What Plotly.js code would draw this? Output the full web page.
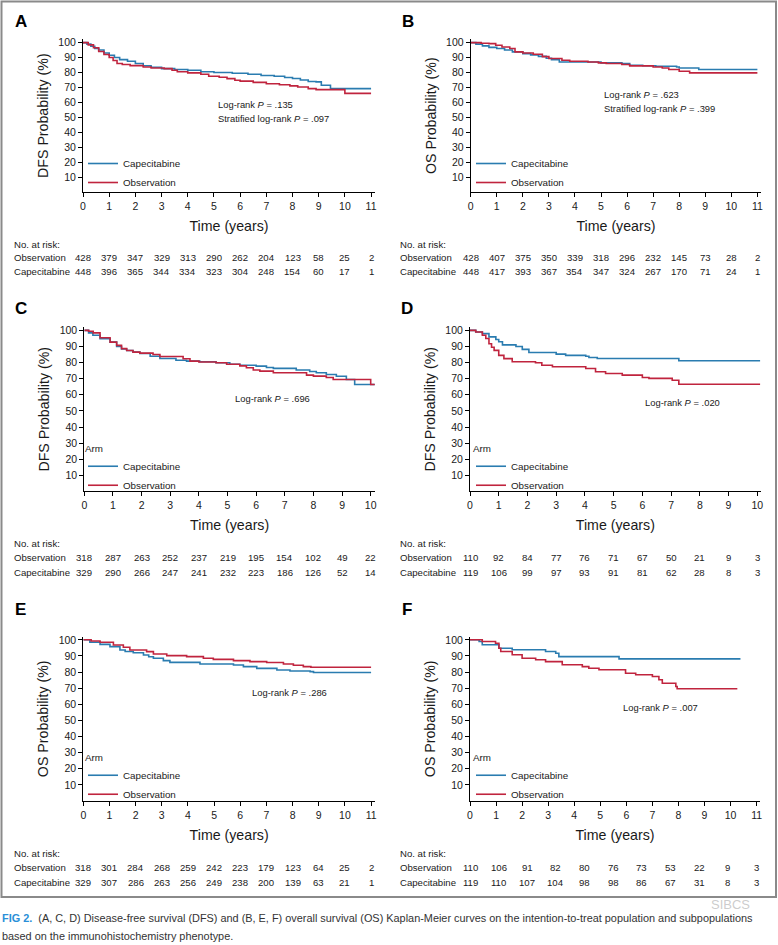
<!DOCTYPE html>
<html><head><meta charset="utf-8">
<script src="https://cdn.plot.ly/plotly-3.0.1.min.js"></script>
<style>html,body{margin:0;padding:0;background:#fff}#chart{width:778px;height:945px}</style>
</head><body><div id="chart"></div>
<script>
// ---------- DATA ----------
const arms = ['Capecitabine', 'Observation'];
const ticksX11 = [0,1,2,3,4,5,6,7,8,9,10,11];
const ticksX10 = [0,1,2,3,4,5,6,7,8,9,10];
const ticksY = [10,20,30,40,50,60,70,80,90,100];

// Panel A: DFS, intention-to-treat
const A_cap_t = [0,0.15,0.3,0.45,0.6,0.8,1.0,1.2,1.4,1.7,2.0,2.3,2.6,3.0,3.5,4.0,4.5,5.0,5.7,6.3,6.8,7.3,7.7,8.0,8.3,8.6,8.9,9.1,9.45,11.0];
const A_cap_s = [100,99,97.5,96,95,93,91.5,90,88.6,87.5,86,84.5,83.5,82.6,82,81.5,80.5,80,79.5,78.8,78,77.5,76.6,76,75,74,73.7,71.4,69.2,69.2];
const A_obs_t = [0,0.2,0.4,0.6,0.8,1.0,1.15,1.3,1.5,1.8,2.3,2.6,3.1,3.4,3.6,4.0,4.5,4.8,5.2,5.5,5.8,6.0,6.5,7.0,7.5,7.9,8.2,8.6,8.9,10.0,11.0];
const A_obs_s = [100,98.5,96.5,94,92,90,88,86,85.3,84.6,83.7,83,82.6,81.5,80.5,79.7,78.8,77.5,76.8,75.9,74.8,74.2,73.4,72.5,71.8,71,70.3,69.2,68.5,66,66];
const A_risk_obs = [428,379,347,329,313,290,262,204,123,58,25,2];
const A_risk_cap = [448,396,365,344,334,323,304,248,154,60,17,1];

// Panel B: OS, intention-to-treat
const B_cap_t = [0,0.2,0.45,0.7,1.0,1.3,1.6,2.0,2.3,2.6,2.9,3.1,3.4,5.0,5.8,6.1,6.6,7.1,7.9,8.0,8.75,11.0];
const B_cap_s = [100,99,97.8,96.8,96,95,93.8,92.6,91.8,90.8,89.5,88.6,87,86.4,86,84.8,84.5,84.2,83.7,83,82,82];
const B_obs_t = [0,0.4,0.7,0.96,1.2,1.5,1.7,2.0,2.4,2.75,3.0,3.5,3.8,4.5,4.9,5.2,5.8,6.1,7.0,7.35,7.6,8.0,8.4,11.0];
const B_obs_s = [100,99.6,99.3,98.2,97,96,93.8,93,92.2,90.6,89.3,88.2,87.5,87,86.4,86,85.3,84.4,83.7,83,82,80.8,79.7,79.7];
const B_risk_obs = [428,407,375,350,339,318,296,232,145,73,28,2];
const B_risk_cap = [448,417,393,367,354,347,324,267,170,71,24,1];

// Panel C: DFS subpopulation
const C_cap_t = [0,0.15,0.3,0.55,0.9,1.13,1.3,1.48,1.7,1.94,2.3,2.64,3.2,3.57,4.03,4.6,5.08,5.43,6.0,6.36,6.6,7.4,7.87,8.1,8.45,8.8,9.15,9.44,10.14];
const C_cap_s = [100,98.5,97,94.8,92.7,90,88.5,87.5,86.5,85.7,84,82.6,81.5,80.9,80.5,79.9,79,78.4,77.8,77,76.4,75.4,74.5,73.7,72.6,71.5,69.5,66.4,66.4];
const C_obs_t = [0,0.15,0.31,0.55,0.9,1.13,1.3,1.48,1.7,1.94,2.4,2.64,3.45,3.69,4.0,4.6,4.97,5.43,5.66,5.9,6.13,6.6,7.76,8.0,8.45,8.69,10.0,10.14];
const C_obs_s = [100,99.5,98.5,95.4,92.7,90.7,88.7,87.5,86.5,85.9,85,83.8,82.4,80.9,80.4,79.9,79,78,76.8,75.4,74.7,73.7,72.2,71.6,70.8,69.5,66.4,66.4];
const C_risk_obs = [318,287,263,252,237,219,195,154,102,49,22];
const C_risk_cap = [329,290,266,247,241,232,223,186,126,52,14];

// Panel D: DFS subpopulation
const D_cap_t = [0,0.2,0.43,0.66,0.9,1.0,1.13,1.6,1.82,2.05,3.0,3.33,4.03,4.14,4.43,7.27,10.1];
const D_cap_s = [100,99,98,96,94.4,93,91,90,88.2,86.3,85.3,84.5,84,83.2,82.6,81.2,81.2];
const D_obs_t = [0,0.2,0.43,0.55,0.66,0.75,0.84,1.0,1.18,1.47,2.28,2.5,2.87,4.03,4.37,4.72,5.3,6.0,6.23,7.04,7.27,10.1];
const D_obs_s = [100,99,97,95,91.7,89.5,87.6,84.5,82.5,80.5,79.9,78.4,77.4,76.3,74.3,73.2,72.2,70.8,70.2,69,66.6,66.6];
const D_risk_obs = [110,92,84,77,76,71,67,50,21,9,3];
const D_risk_cap = [119,106,99,97,93,91,81,62,28,8,3];

// Panel E: OS subpopulation
const E_cap_t = [0,0.25,0.64,1.02,1.4,1.6,1.91,2.3,2.5,2.68,3.06,3.31,4.46,5.74,6.12,6.63,7.4,7.9,8.67,8.8,11.0];
const E_cap_s = [100,98.5,97.2,95.8,93.7,92.8,92,90.6,89.5,88.6,87.1,86,85,84.4,83.4,82.3,81.3,80.7,80.3,79.7,79.7];
const E_obs_t = [0,0.3,0.64,1.15,1.53,1.78,2.42,2.68,3.19,3.95,4.59,4.97,5.74,6.37,7.01,7.65,8.03,8.41,8.7,11.0];
const E_obs_s = [100,99.3,98.5,96.8,95.4,93.7,92.7,91.2,90.2,89.6,88.6,87.9,87.1,86.5,85.9,85,84.2,83.4,83,83];
const E_risk_obs = [318,301,284,268,259,242,223,179,123,64,25,2];
const E_risk_cap = [329,307,286,263,256,249,238,200,139,63,21,1];

// Panel F: OS subpopulation
const F_cap_t = [0,0.35,0.47,1.11,1.62,2.9,3.29,3.41,5.72,10.38];
const F_cap_s = [100,99,96.9,94.8,93.8,92.8,91.7,89.6,88.2,88.2];
const F_obs_t = [0,0.47,0.98,1.11,1.18,1.62,2.0,2.52,2.9,3.54,4.31,4.56,4.95,5.97,6.36,7.0,7.25,7.38,7.9,7.95,10.26];
const F_obs_s = [100,99,97.9,94.8,92.8,90.7,88.6,87.6,86.5,84.5,83.4,82.4,81.4,79.3,78.3,77.2,75.2,73.1,71,69.6,69.6];
const F_risk_obs = [110,106,91,82,80,76,73,53,22,9,3];
const F_risk_cap = [119,110,107,104,98,98,86,67,31,8,3];

const pvalTexts = {
  A: ['Log-rank <i>P</i> = .135', 'Stratified log-rank <i>P</i> = .097'],
  B: ['Log-rank <i>P</i> = .623', 'Stratified log-rank <i>P</i> = .399'],
  C: ['Log-rank <i>P</i> = .696'],
  D: ['Log-rank <i>P</i> = .020'],
  E: ['Log-rank <i>P</i> = .286'],
  F: ['Log-rank <i>P</i> = .007']
};
const yTitles = {A:'DFS Probability (%)', B:'OS Probability (%)', C:'DFS Probability (%)', D:'DFS Probability (%)', E:'OS Probability (%)', F:'OS Probability (%)'};
const captionLine1 = '(A, C, D) Disease-free survival (DFS) and (B, E, F) overall survival (OS) Kaplan-Meier curves on the intention-to-treat population and subpopulations';
const captionLine2 = 'based on the immunohistochemistry phenotype.';

// ---------- LAYOUT ----------
const W = 778, H = 945;
const PX = v => v / W;
const PY = v => 1 - v / H;
const SANS = '"Liberation Sans", Arial, Helvetica, sans-serif';
const BLUE = '#2a7cb0', RED = '#c0243e', INK = '#1a1a1a';

const panels = [
  {k:'A', data:[A_cap_t,A_cap_s,A_obs_t,A_obs_s], risk:[A_risk_obs,A_risk_cap], ticks:ticksX11,
   x0:83, x1:375, xmax:11.15, yT:39.3, yB:192, ymax:102.2, letter:[13,21],
   pv:[216,104], leg:[83,149], legTitle:false, riskX:12, rows:[244,258,272]},
  {k:'B', data:[B_cap_t,B_cap_s,B_obs_t,B_obs_s], risk:[B_risk_obs,B_risk_cap], ticks:ticksX11,
   x0:470.7, x1:761.3, xmax:11.15, yT:39.3, yB:192, ymax:102.2, letter:[400,21],
   pv:[602,94], leg:[471,149], legTitle:false, riskX:398, rows:[244,258,272]},
  {k:'C', data:[C_cap_t,C_cap_s,C_obs_t,C_obs_s], risk:[C_risk_obs,C_risk_cap], ticks:ticksX10,
   x0:84.3, x1:375, xmax:10.15, yT:327.2, yB:491.4, ymax:102, letter:[13,308],
   pv:[233,398], leg:[83,439], legTitle:true, riskX:12, rows:[543,557,572]},
  {k:'D', data:[D_cap_t,D_cap_s,D_obs_t,D_obs_s], risk:[D_risk_obs,D_risk_cap], ticks:ticksX10,
   x0:470, x1:760.7, xmax:10.12, yT:327.2, yB:491.4, ymax:102, letter:[399,308],
   pv:[643,402], leg:[471,439], legTitle:true, riskX:398, rows:[543,557,572]},
  {k:'E', data:[E_cap_t,E_cap_s,E_obs_t,E_obs_s], risk:[E_risk_obs,E_risk_cap], ticks:ticksX11,
   x0:83.3, x1:375, xmax:11.15, yT:636.6, yB:801, ymax:102, letter:[13,609],
   pv:[250,692], leg:[83,748], legTitle:true, riskX:12, rows:[853,867,882]},
  {k:'F', data:[F_cap_t,F_cap_s,F_obs_t,F_obs_s], risk:[F_risk_obs,F_risk_cap], ticks:ticksX11,
   x0:470, x1:760, xmax:11.13, yT:636.6, yB:801, ymax:102, letter:[400,609],
   pv:[621,707], leg:[471,748], legTitle:true, riskX:398, rows:[853,867,882]}
];

const traces = [];
const layout = {
  width: W, height: H,
  margin: {l:0, r:0, t:0, b:0},
  paper_bgcolor: '#fff', plot_bgcolor: '#fff',
  font: {family: SANS, color: INK},
  showlegend: true,
  annotations: [], shapes: []
};

panels.forEach((p, i) => {
  const n = i + 1;
  const xa = n === 1 ? 'x' : 'x' + n;
  const ya = n === 1 ? 'y' : 'y' + n;
  const legName = n === 1 ? 'legend' : 'legend' + n;
  const colors = [BLUE, RED];
  for (let a = 0; a < 2; a++) {
    traces.push({
      type: 'scatter', mode: 'lines',
      x: p.data[a*2], y: p.data[a*2+1],
      name: arms[a], xaxis: xa, yaxis: ya, legend: legName,
      line: {color: colors[a], width: 1.6, shape: 'hv'},
      hoverinfo: 'skip'
    });
  }
  layout[(n === 1 ? 'xaxis' : 'xaxis' + n)] = {
    domain: [PX(p.x0), PX(p.x1)], range: [0, p.xmax], anchor: ya,
    tickmode: 'array', tickvals: p.ticks, ticktext: p.ticks.map(String),
    ticks: 'outside', ticklen: 4, tickwidth: 1, tickcolor: '#000',
    showline: true, linecolor: '#000', linewidth: 1,
    showgrid: false, zeroline: false, automargin: false, fixedrange: true,
    tickfont: {family: SANS, size: 10.5, color: INK},
    title: {text: 'Time (years)', font: {family: SANS, size: 14.2, color: INK}, standoff: 10}
  };
  layout[(n === 1 ? 'yaxis' : 'yaxis' + n)] = {
    domain: [PY(p.yB), PY(p.yT)], range: [0, p.ymax], anchor: xa,
    tickmode: 'array', tickvals: ticksY, ticktext: ticksY.map(String),
    ticks: 'outside', ticklen: 4, tickwidth: 1, tickcolor: '#000',
    showline: true, linecolor: '#000', linewidth: 1,
    showgrid: false, zeroline: false, automargin: false, fixedrange: true,
    tickfont: {family: SANS, size: 10.5, color: INK},
    title: {text: yTitles[p.k], font: {family: SANS, size: 14.2, color: INK}, standoff: 6}
  };
  layout[legName] = {
    x: PX(p.leg[0]), y: PY(p.leg[1]), xanchor: 'left', yanchor: 'top',
    bgcolor: 'rgba(0,0,0,0)', borderwidth: 0, itemwidth: 30,
    font: {family: SANS, size: 9.8, color: INK},
    title: p.legTitle ? {text: 'Arm', font: {family: SANS, size: 9.8, color: INK}} : {text: ''},
    traceorder: 'normal', tracegroupgap: 0
  };
  // panel letter
  layout.annotations.push({xref:'paper', yref:'paper', x: PX(p.letter[0]), y: PY(p.letter[1]),
    xanchor:'left', yanchor:'middle', showarrow:false, text:'<b>' + p.k + '</b>',
    font:{family: SANS, size: 17, color: '#000'}});
  // p-values
  pvalTexts[p.k].forEach((t, j) => {
    layout.annotations.push({xref:'paper', yref:'paper', x: PX(p.pv[0]), y: PY(p.pv[1] + j*15),
      xanchor:'left', yanchor:'middle', showarrow:false, text:t,
      font:{family: SANS, size: 9.4, color: INK}});
  });
  // risk table
  const rowLabels = ['No. at risk:', 'Observation', 'Capecitabine'];
  rowLabels.forEach((lab, j) => {
    layout.annotations.push({xref:'paper', yref:'paper', x: PX(p.riskX), y: PY(p.rows[j]),
      xanchor:'left', yanchor:'middle', showarrow:false, text: lab,
      font:{family: SANS, size: 9.6, color: INK}});
  });
  const lastTick = p.ticks[p.ticks.length - 1];
  [p.risk[0], p.risk[1]].forEach((vals, j) => {
    const step = lastTick / (vals.length - 1);
    vals.forEach((v, idx) => {
      layout.annotations.push({xref: xa, yref:'paper', x: idx * step, y: PY(p.rows[j+1]),
        xanchor:'center', yanchor:'middle', showarrow:false, text: String(v),
        font:{family: SANS, size: 9.6, color: INK}});
    });
  });
});

// frame around the figure
layout.shapes.push({type:'rect', xref:'paper', yref:'paper', x0: PX(1.5), x1: PX(776), y0: PY(897), y1: PY(1.5),
  line:{color:'#8a8a8a', width:2}, fillcolor:'rgba(0,0,0,0)'});

// caption
layout.annotations.push({xref:'paper', yref:'paper', x: 0, y: PY(918), xanchor:'left', yanchor:'middle', showarrow:false,
  text: '<span style="color:#2a8fd8"><b>FIG 2.</b></span>  ' + captionLine1,
  font:{family: SANS, size: 10.9, color: '#333'}});
layout.annotations.push({xref:'paper', yref:'paper', x: 0, y: PY(936), xanchor:'left', yanchor:'middle', showarrow:false,
  text: captionLine2, font:{family: SANS, size: 10.9, color: '#333'}});
// watermark
layout.annotations.push({xref:'paper', yref:'paper', x: PX(730), y: PY(904), xanchor:'center', yanchor:'middle', showarrow:false,
  text: 'SIBCS', font:{family: SANS, size: 13, color: 'rgba(170,170,170,0.6)'}});

Plotly.newPlot('chart', traces, layout, {displayModeBar: false, staticPlot: true});
</script></body></html>
